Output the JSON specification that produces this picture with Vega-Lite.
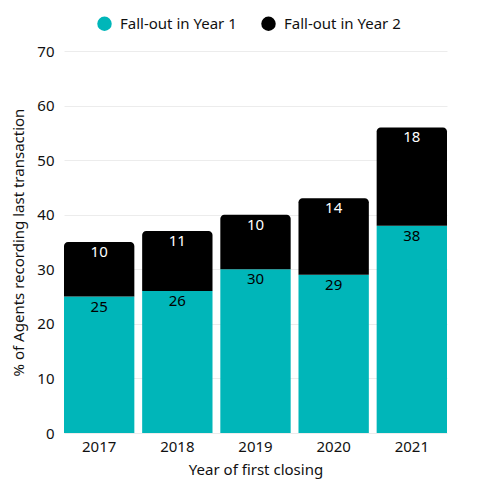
{
  "$schema": "https://vega.github.io/schema/vega-lite/v6.json",
  "width": 383,
  "height": 382,
  "autosize": {"type": "none"},
  "padding": {"left": 64, "top": 51, "right": 40, "bottom": 63},
  "background": "white",
  "config": {
    "font": "Noto Sans",
    "view": {"stroke": null},
    "axis": {"labelFont": "Noto Sans", "titleFont": "Noto Sans", "labelColor": "#111", "titleColor": "#111", "titleFontWeight": "normal"},
    "legend": {"labelFont": "Noto Sans"}
  },
  "data": {
    "values": [
      {"year": "2017", "series": "Fall-out in Year 1", "value": 25},
      {"year": "2017", "series": "Fall-out in Year 2", "value": 10},
      {"year": "2018", "series": "Fall-out in Year 1", "value": 26},
      {"year": "2018", "series": "Fall-out in Year 2", "value": 11},
      {"year": "2019", "series": "Fall-out in Year 1", "value": 30},
      {"year": "2019", "series": "Fall-out in Year 2", "value": 10},
      {"year": "2020", "series": "Fall-out in Year 1", "value": 29},
      {"year": "2020", "series": "Fall-out in Year 2", "value": 14},
      {"year": "2021", "series": "Fall-out in Year 1", "value": 38},
      {"year": "2021", "series": "Fall-out in Year 2", "value": 18}
    ]
  },
  "transform": [
    {"stack": "value", "groupby": ["year"], "sort": [{"field": "series", "order": "ascending"}], "as": ["v0", "v1"]}
  ],
  "encoding": {
    "x": {
      "field": "year", "type": "nominal",
      "scale": {"paddingInner": 0.1, "paddingOuter": 0},
      "axis": {"title": "Year of first closing", "labelAngle": 0, "labelFontSize": 15, "titleFontSize": 15, "domain": false, "ticks": false, "labelPadding": 6, "titlePadding": 8}
    },
    "y": {
      "field": "v1", "type": "quantitative",
      "scale": {"domain": [0, 70]},
      "axis": {"title": "% of Agents recording last transaction", "values": [0,10,20,30,40,50,60,70], "labelFontSize": 15, "titleFontSize": 15, "domain": false, "ticks": false, "labelPadding": 10, "titlePadding": 10, "gridColor": "#ececec"}
    }
  },
  "layer": [
    {
      "transform": [{"filter": "datum.series === 'Fall-out in Year 1'"}],
      "mark": {"type": "bar"},
      "encoding": {
        "y2": {"field": "v0"},
        "color": {
          "field": "series", "type": "nominal",
          "scale": {"domain": ["Fall-out in Year 1", "Fall-out in Year 2"], "range": ["#00B6B9", "#000000"]},
          "legend": {"title": null, "orient": "none", "direction": "horizontal", "legendX": 33, "legendY": -35, "symbolType": "circle", "symbolSize": 210, "symbolStrokeWidth": 0, "labelFontSize": 15, "labelColor": "#111", "columnPadding": 24, "labelOffset": 8}
        }
      }
    },
    {
      "transform": [{"filter": "datum.series === 'Fall-out in Year 2'"}],
      "mark": {"type": "bar", "cornerRadiusTopLeft": 4, "cornerRadiusTopRight": 4},
      "encoding": {
        "y2": {"field": "v0"},
        "color": {"field": "series", "type": "nominal"}
      }
    },
    {
      "mark": {"type": "text", "baseline": "top", "dy": 3, "fontSize": 15},
      "encoding": {
        "text": {"field": "value", "type": "quantitative"},
        "color": {"condition": {"test": "datum.series === 'Fall-out in Year 2'", "value": "#ffffff"}, "value": "#000000"}
      }
    }
  ]
}
